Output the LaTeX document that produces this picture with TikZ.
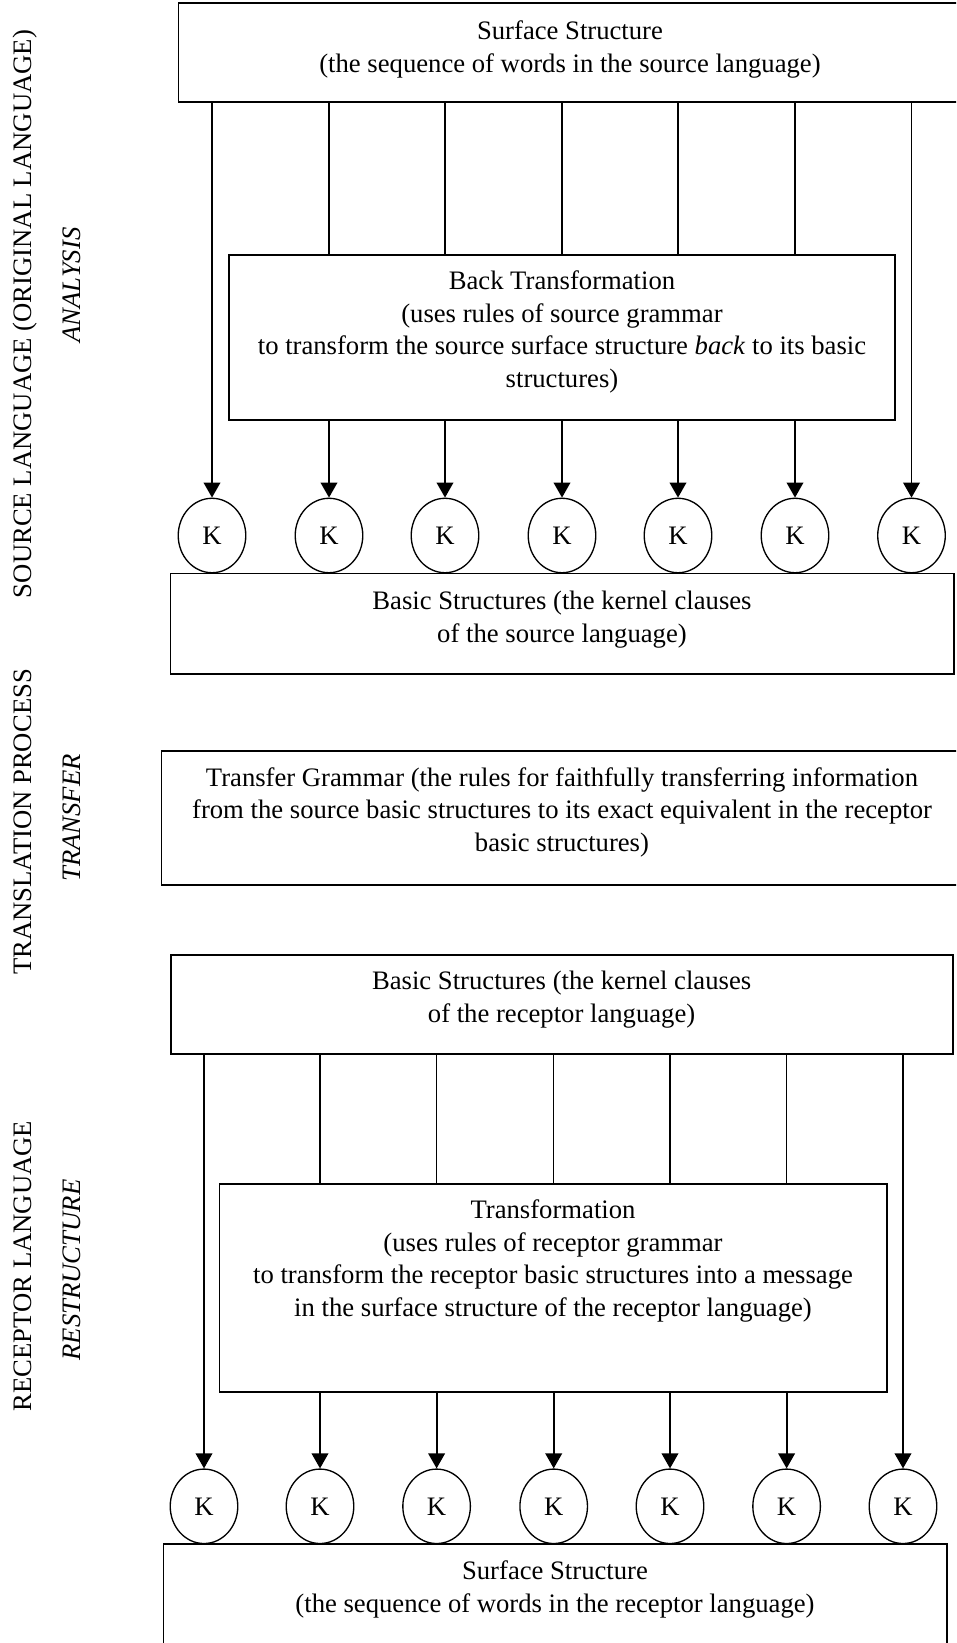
\documentclass[tikz,border=0pt]{standalone}
\usepackage{fontspec}
\setmainfont{Liberation Serif}
\usetikzlibrary{shapes.geometric,fit,arrows.meta}
\begin{document}
\begin{tikzpicture}[x=0.45pt,y=-0.45pt,
  box/.style={draw,line width=0.8pt,inner sep=0pt},
  txt/.style={align=center,font=\fontsize{12}{14.6}\selectfont,inner sep=0pt},
  kk/.style={draw,ellipse,line width=0.6pt,minimum width=30.4pt,minimum height=33.5pt,inner sep=0pt,font=\fontsize{12}{14.6}\selectfont},
  arr/.style={line width=0.85pt,-{Triangle[width=7.5pt,length=6.8pt]}},
  thinline/.style={line width=0.6pt},
  side/.style={rotate=90,font=\fontsize{12}{14.6}\selectfont,inner sep=0pt},
  sideit/.style={rotate=90,font=\fontsize{12}{14.6}\selectfont\itshape,inner sep=0pt}]
\useasboundingbox (0,0) rectangle (956,1643);
\fill[white] (0,0) rectangle (956,1643);
\clip (0,0) rectangle (956,1643);

% side labels
\node[side] (l1) at (25,314) {SOURCE LANGUAGE (ORIGINAL LANGUAGE)};
\node[sideit] (l2) at (72,285) {ANALYSIS};
\node[side] (l3) at (23,822) {TRANSLATION PROCESS};
\node[sideit] (l4) at (72,818) {TRANSFER};
\node[side] (l5) at (23,1266) {RECEPTOR LANGUAGE};
\node[sideit] (l6) at (72,1270) {RESTRUCTURE};

% ---------- source part ----------
\coordinate (topA) at (178.6,3); \coordinate (topB) at (962,102);
\node[box,fit=(topA)(topB)] (top) {};
\node[txt] (topT) at (570,49.5) {Surface Structure\\(the sequence of words in the source language)};

\coordinate (backA) at (228.7,255); \coordinate (backB) at (895,420);
\node[box,fit=(backA)(backB)] (back) {};
\node[txt] (backT) at (562,332) {Back Transformation\\(uses rules of source grammar\\to transform the source surface structure \textit{back} to its basic\\structures)};

\foreach \i/\x in {1/212,2/329,3/445,4/562,5/678,6/795,7/911.5}
  \node[kk] (ka\i) at (\x,535.5) {K};

\coordinate (bsA) at (170.5,573.5); \coordinate (bsB) at (954,674);
\node[box,fit=(bsA)(bsB)] (bs) {};
\node[txt] (bsT) at (562,619.5) {Basic Structures (the kernel clauses\\of the source language)};

\draw[arr] (top.south -| ka1.north) -- (ka1.north);
\draw[arr] (top.south -| ka7.north) -- (ka7.north);
\foreach \i in {2,...,6}{
  \draw[thinline] (top.south -| ka\i.north) -- (back.north -| ka\i.north);
  \draw[arr] (back.south -| ka\i.north) -- (ka\i.north);
}

% ---------- transfer ----------
\coordinate (trA) at (161.6,750.7); \coordinate (trB) at (962,885);
\node[box,fit=(trA)(trB)] (tr) {};
\node[txt] (trT) at (562,812) {Transfer Grammar (the rules for faithfully transferring information\\from the source basic structures to its exact equivalent in the receptor\\basic structures)};

% ---------- receptor part ----------
\coordinate (brA) at (170.7,955); \coordinate (brB) at (953,1054);
\node[box,fit=(brA)(brB)] (br) {};
\node[txt] (brT) at (561.6,999.5) {Basic Structures (the kernel clauses\\of the receptor language)};

\coordinate (tfA) at (219.5,1184); \coordinate (tfB) at (887,1391.7);
\node[box,fit=(tfA)(tfB)] (tf) {};
\node[txt] (tfT) at (553,1261) {Transformation\\(uses rules of receptor grammar\\to transform the receptor basic structures into a message\\in the surface structure of the receptor language)};

\foreach \i/\x in {1/204,2/320,3/436.6,4/553.7,5/670,6/786.6,7/903}
  \node[kk] (kb\i) at (\x,1506.3) {K};

\coordinate (ssA) at (163.4,1544); \coordinate (ssB) at (947,1660);
\node[box,fit=(ssA)(ssB)] (ss) {};
\node[txt] (ssT) at (555,1589.5) {Surface Structure\\(the sequence of words in the receptor language)};

\draw[arr] (br.south -| kb1.north) -- (kb1.north);
\draw[arr] (br.south -| kb7.north) -- (kb7.north);
\foreach \i in {2,...,6}{
  \draw[thinline] (br.south -| kb\i.north) -- (tf.north -| kb\i.north);
  \draw[arr] (tf.south -| kb\i.north) -- (kb\i.north);
}
\end{tikzpicture}
\end{document}
